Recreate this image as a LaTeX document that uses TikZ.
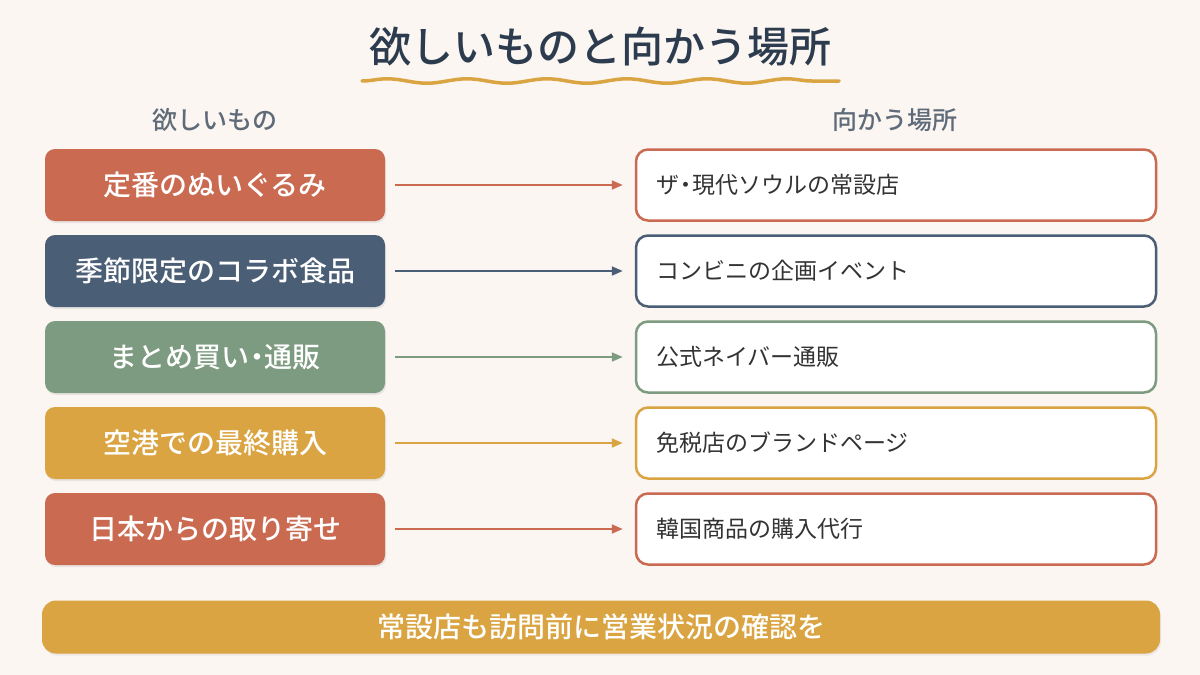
\documentclass[tikz,border=0pt]{standalone}
\usepackage{fontspec}
\setmainfont{Noto Sans CJK JP}[BoldFont={* Medium}]
\usetikzlibrary{decorations.pathmorphing,shadows,arrows.meta}
\definecolor{bg}{HTML}{FBF6F2}
\definecolor{titlec}{HTML}{2C3B4E}
\definecolor{headc}{HTML}{5F6B78}
\definecolor{gold}{HTML}{D9A441}
\definecolor{cred}{HTML}{C96A51}
\definecolor{cnavy}{HTML}{4A5E75}
\definecolor{cgreen}{HTML}{7D9B80}
\definecolor{txt}{HTML}{333333}
\newcommand{\ndot}{\kern-0.22em・\kern-0.22em}
\tikzset{
  leftbox/.style={rounded corners=10pt, fill=#1, minimum width=340pt, minimum height=72pt,
    text=white, font=\fontsize{28}{32}\selectfont\bfseries, anchor=center,
    drop shadow={opacity=0.15, shadow xshift=1pt, shadow yshift=-2pt}},
  rightbox/.style={rounded corners=12pt, draw=#1, line width=2.5pt, fill=white,
    minimum width=520pt, minimum height=71pt, anchor=center},
  righttext/.style={text=txt, font=\fontsize{23}{27}\selectfont, anchor=west},
  conn/.style={draw=#1, line width=2pt, -{Triangle[length=11pt,width=9pt]}},
  head/.style={text=headc, font=\fontsize{25}{29}\selectfont\bfseries},
}
\begin{document}
\begin{tikzpicture}[x=1pt,y=-1pt]
\useasboundingbox[fill=bg] (0,0) rectangle (1200,675);
\node[text=titlec, font=\fontsize{42}{48}\selectfont\bfseries] (title) at (600,47) {欲しいものと向かう場所};
\draw[gold, line width=3.5pt, line cap=round, decorate, decoration={snake, segment length=80pt, amplitude=2.2pt}] (362,81) -- (839,81);
\node[head] (hl) at (215,120) {欲しいもの};
\node[head] (hr) at (895,120) {向かう場所};
\foreach \i/\c/\l/\r in {0/cred/定番のぬいぐるみ/ザ\ndot 現代ソウルの常設店,
                          1/cnavy/季節限定のコラボ食品/コンビニの企画イベント,
                          2/cgreen/まとめ買い\ndot 通販/公式ネイバー通販,
                          3/gold/空港での最終購入/免税店のブランドページ,
                          4/cred/日本からの取り寄せ/韓国商品の購入代行}{
  \pgfmathsetmacro{\yy}{185+86*\i}
  \node[leftbox=\c] (L\i) at (215,\yy) {\l};
  \node[rightbox=\c] (R\i) at (896,\yy) {};
  \node[righttext] (T\i) at ([xshift=18pt]R\i.west) {\r};
  \draw[conn=\c] ([xshift=10pt]L\i.east) -- ([xshift=-12pt]R\i.west);
}
\node[rounded corners=14pt, fill=gold, minimum width=1118pt, minimum height=53pt,
  text=white, font=\fontsize{28}{32}\selectfont\bfseries,
  drop shadow={opacity=0.12, shadow xshift=1pt, shadow yshift=-2pt}] (note) at (601,627) {常設店も訪問前に営業状況の確認を};
\end{tikzpicture}
\end{document}
